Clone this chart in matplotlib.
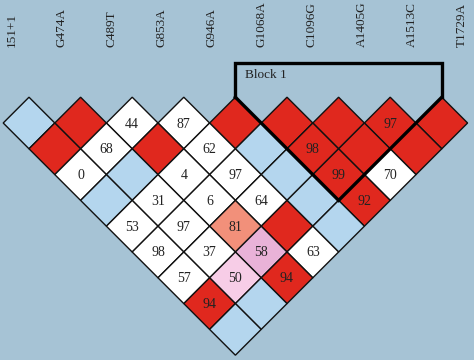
import matplotlib
matplotlib.use("Agg")
import matplotlib.pyplot as plt
from matplotlib.patches import Polygon

# Marker names along the top
markers = ["151+1", "G474A", "C489T", "G853A", "G946A",
           "G1068A", "C1096G", "A1405G", "A1513C", "T1729A"]

# D' (x100) per row of the LD triangle; row d holds pairs (i, i+d), i = 0..
# None means D' = 1 (no number shown)
dprime_rows = [
    [None, None, 44, 87, None, None, None, 97, None],
    [None, 68, None, 62, None, 98, None, None],
    [0, None, 4, 97, None, 99, 70],
    [None, 31, 6, 64, None, 92],
    [53, 97, 81, None, None],
    [98, 37, 58, 63],
    [57, 50, 94],
    [94, None],
    [None],
]

# Colour class per cell (same layout): R strong LD, B D'=1 low LOD,
# W low LOD, S/P/L graded pink-red shades
color_rows = [
    ["B", "R", "W", "W", "R", "R", "R", "R", "R"],
    ["R", "W", "R", "W", "B", "R", "R", "R"],
    ["W", "B", "W", "W", "B", "R", "W"],
    ["B", "W", "W", "W", "B", "R"],
    ["W", "W", "S", "R", "B"],
    ["W", "W", "P", "W"],
    ["W", "L", "R"],
    ["R", "B"],
    ["B"],
]

block_name = "Block 1"
block_markers = (5, 8)  # first and last marker in the block

palette = {
    "R": "#e0281e",
    "B": "#b4d6ee",
    "W": "#ffffff",
    "S": "#f2907a",
    "P": "#e9b2d8",
    "L": "#f7cde7",
}
bg = "#a6c3d5"

# layout in pixels
x0, y0, s = 29.0, 123.0, 51.6
h = s / 2


def mpos(i):
    return x0 + (i - 0.5) * s


fig = plt.figure(figsize=(4.74, 3.6), dpi=100, facecolor=bg)
ax = fig.add_axes([0, 0, 1, 1])
ax.set_facecolor(bg)
ax.set_xlim(0, 474)
ax.set_ylim(360, 0)
ax.axis("off")

serif = ["Liberation Serif", "DejaVu Serif"]

for d, (vals, cols) in enumerate(zip(dprime_rows, color_rows), start=1):
    for i, (v, c) in enumerate(zip(vals, cols)):
        j = i + d
        cx = (mpos(i) + mpos(j)) / 2
        cy = y0 + (d - 1) * h
        poly = Polygon([(cx, cy - h), (cx + h, cy), (cx, cy + h), (cx - h, cy)],
                       closed=True, facecolor=palette[c], edgecolor="#111111",
                       linewidth=1.0)
        ax.add_patch(poly)
        if v is not None:
            ax.text(cx, cy + 1, str(v), ha="center", va="center",
                    fontsize=10, family=serif, color="#222222")

# marker labels
for k, name in enumerate(markers):
    ax.text(12 + 50 * k, 47, name, rotation=90, ha="center", va="bottom",
            fontsize=9.5, family=serif, color="#222222")

# block outline
b0, b1 = block_markers
xl = mpos(b0 - 0.5)
xr = mpos(b1 + 0.5)
ytop = y0 - h
ybr = 63
apex = ((xl + xr) / 2, ytop + (xr - xl) / 2)
ax.plot([xl, xl, xr, xr], [ytop, ybr, ybr, ytop], color="black", lw=2.4,
        solid_joinstyle="miter")
ax.plot([xl, apex[0], xr], [ytop, apex[1], ytop], color="black", lw=2.4,
        solid_joinstyle="miter")
ax.text(xl + 10, 75, block_name, ha="left", va="center", fontsize=9.5,
        family=serif, color="#222222")

fig.savefig("out.png", dpi=100, facecolor=bg)
